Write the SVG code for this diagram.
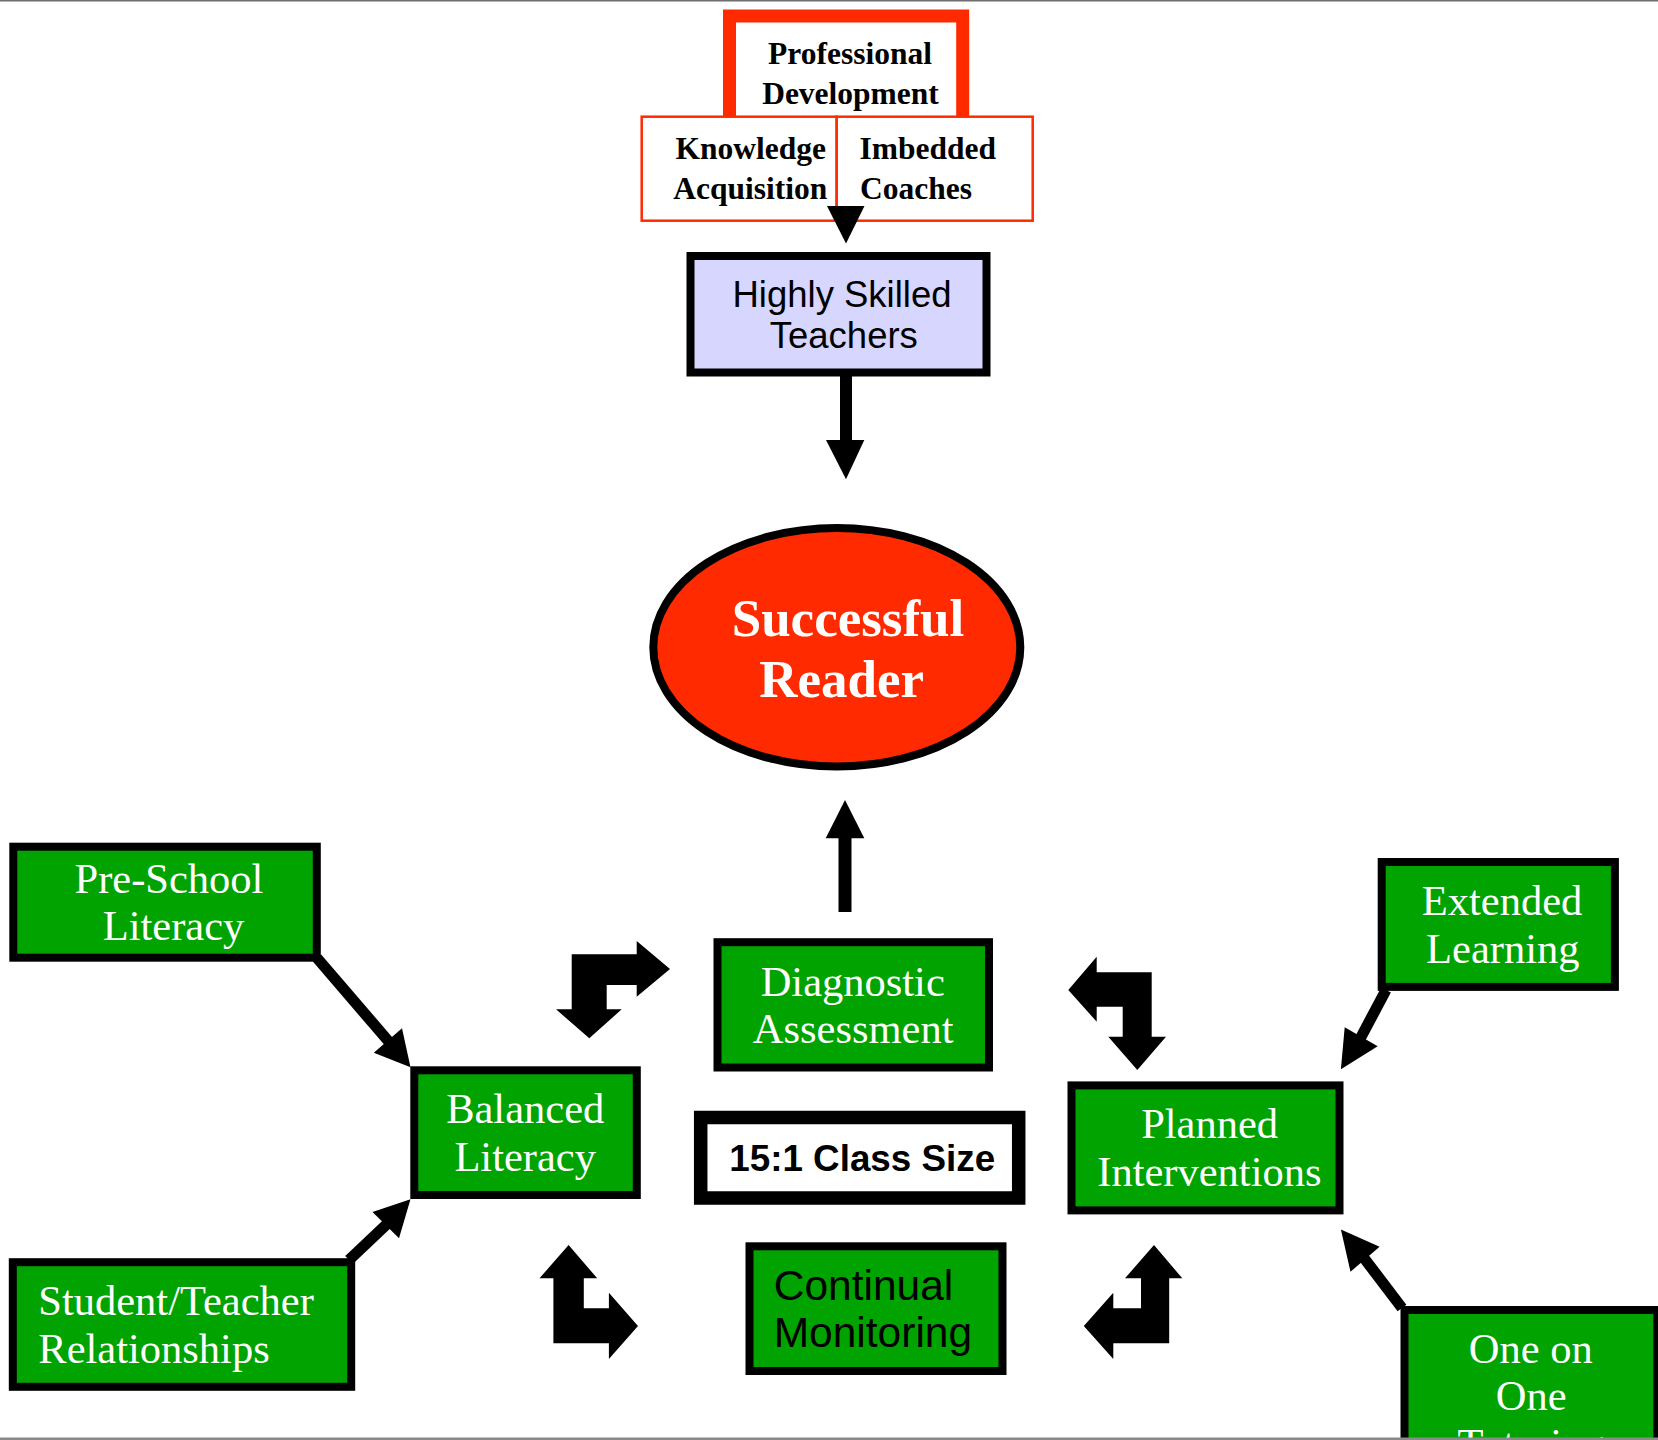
<svg xmlns="http://www.w3.org/2000/svg" width="1658" height="1440" viewBox="0 0 1658 1440">
<style>
.g{fill:#00a300;stroke:#000;stroke-width:8}
.tw{font-family:"Liberation Serif","Times New Roman",serif;font-size:42.5px;fill:#fff;text-anchor:middle}
.pd{font-family:"Liberation Serif","Times New Roman",serif;font-size:31.5px;font-weight:bold;fill:#000;text-anchor:middle}
.tl{text-anchor:start}
.sans{font-family:"Liberation Sans",Arial,sans-serif;fill:#000}
.ln{stroke:#000;stroke-width:11;fill:none}
.ah{fill:#000}
</style>
<rect x="0" y="0" width="1658" height="1440" fill="#fff"/>
<rect x="0" y="0" width="1658" height="1.5" fill="#6e6e6e"/>

<g id="professional-development">
<rect x="729.5" y="16" width="233.2" height="110" fill="#fff" stroke="#ff2a00" stroke-width="13"/>
<text class="pd" x="850" y="64">Professional</text>
<text class="pd" x="850.5" y="104">Development</text>
</g>
<g id="knowledge-acquisition">
<rect x="641.7" y="116.7" width="195" height="104" fill="#fff" stroke="#ff2a00" stroke-width="2.5"/>
<text class="pd" x="750.8" y="159.3">Knowledge</text>
<text class="pd" x="750.3" y="199.3">Acquisition</text>
</g>
<g id="imbedded-coaches">
<rect x="836.7" y="116.7" width="196" height="104" fill="#fff" stroke="#ff2a00" stroke-width="2.5"/>
<text class="pd tl" x="859.5" y="159.3">Imbedded</text>
<text class="pd tl" x="860" y="199.3">Coaches</text>
</g>
<g id="highly-skilled-teachers">
<rect x="690.5" y="256" width="296" height="116.5" fill="#d6d6ff" stroke="#000" stroke-width="8"/>
<text class="sans" x="842" y="306.7" font-size="36.5" text-anchor="middle">Highly Skilled</text>
<text class="sans" x="843.8" y="348.3" font-size="36.5" text-anchor="middle">Teachers</text>
</g>
<g id="successful-reader">
<ellipse cx="836.8" cy="647.3" rx="183.5" ry="119.3" fill="#ff2a00" stroke="#000" stroke-width="8"/>
<text x="848" y="636" font-family="'Liberation Serif','Times New Roman',serif" font-size="53" font-weight="bold" fill="#fff" text-anchor="middle">Successful</text>
<text x="841.7" y="696.7" font-family="'Liberation Serif','Times New Roman',serif" font-size="53" font-weight="bold" fill="#fff" text-anchor="middle">Reader</text>
</g>
<g id="diagnostic-assessment">
<rect class="g" x="717.5" y="942.2" width="271.5" height="125.3"/>
<text class="tw" x="852.7" y="996">Diagnostic</text>
<text class="tw" x="853.2" y="1043.3">Assessment</text>
</g>
<g id="class-size">
<rect x="700.7" y="1117.5" width="318" height="80.5" fill="#fff" stroke="#000" stroke-width="13.5"/>
<text class="sans" x="862.2" y="1171" font-size="36.8" font-weight="bold" text-anchor="middle">15:1 Class Size</text>
</g>
<g id="continual-monitoring">
<rect class="g" x="749.5" y="1246.3" width="253" height="124.7"/>
<text class="sans" x="773.7" y="1300" font-size="42.5">Continual</text>
<text class="sans" x="773.7" y="1346.7" font-size="42.5">Monitoring</text>
</g>
<g id="pre-school-literacy">
<rect class="g" x="13.3" y="846.7" width="303.5" height="111"/>
<text class="tw" x="169" y="892.7">Pre-School</text>
<text class="tw" x="173.5" y="940">Literacy</text>
</g>
<g id="balanced-literacy">
<rect class="g" x="414.3" y="1070.3" width="222.5" height="124.7"/>
<text class="tw" x="525.2" y="1122.7">Balanced</text>
<text class="tw" x="525.2" y="1170.7">Literacy</text>
</g>
<g id="student-teacher-relationships">
<rect class="g" x="12.8" y="1262.2" width="338.4" height="124.6"/>
<text class="tw tl" x="38.3" y="1315">Student/Teacher</text>
<text class="tw tl" x="38.3" y="1362.7">Relationships</text>
</g>
<g id="planned-interventions">
<rect class="g" x="1071.5" y="1085.4" width="268" height="125"/>
<text class="tw" x="1209.6" y="1138">Planned</text>
<text class="tw" x="1209.4" y="1185.7">Interventions</text>
</g>
<g id="extended-learning">
<rect class="g" x="1381.7" y="862" width="233.2" height="124.9"/>
<text class="tw" x="1502" y="914.5">Extended</text>
<text class="tw" x="1502.8" y="963">Learning</text>
</g>
<g id="one-on-one-tutoring">
<rect class="g" x="1404.5" y="1310" width="252.8" height="200"/>
<text class="tw" x="1530.8" y="1362.7">One on</text>
<text class="tw" x="1531.2" y="1410">One</text>
<text class="tw" x="1531" y="1457.5">Tutoring</text>
</g>

<g id="connectors">
<polygon class="ah" points="827,206 864.5,206 846,243.5"/>
<rect x="840" y="370" width="12" height="72" fill="#000"/>
<polygon class="ah" points="826,440 864.3,440 846,479.3"/>
<rect x="838.5" y="836" width="13" height="76" fill="#000"/>
<polygon class="ah" points="825.7,838.3 864.3,838.3 845,800"/>
<path class="ah" d="M571.7,954.3 L636.7,954.3 L636.7,941 L670,969 L636.7,996.7 L636.7,985 L606.7,985 L606.7,1009.3 L621.7,1009.3 L589.3,1038.3 L556,1009.3 L571.7,1009.3 Z"/>
<path class="ah" d="M1068.3,990 L1096.7,956.7 L1096.7,972.3 L1151.7,972.3 L1151.7,1036.7 L1166,1036.7 L1137.3,1070 L1108.3,1036.7 L1122.7,1036.7 L1122.7,1006.7 L1096.7,1006.7 L1096.7,1021.7 Z"/>
<path class="ah" d="M568.6,1245 L597.2,1278.3 L583.8,1278.3 L583.8,1308.3 L608.9,1308.3 L608.9,1292.7 L638,1326 L608.9,1359 L608.9,1343.3 L553.4,1343.3 L553.4,1278.3 L539.5,1278.3 Z"/>
<path class="ah" d="M1154,1245 L1182.3,1278.3 L1169.2,1278.3 L1169.2,1343.3 L1113.3,1343.3 L1113.3,1359 L1083.8,1326 L1113.3,1292.7 L1113.3,1308.3 L1141,1308.3 L1141,1278.3 L1125,1278.3 Z"/>
<line class="ln" x1="317" y1="958" x2="390" y2="1043"/>
<polygon class="ah" points="410.5,1067.3 373.8,1052.7 402,1028.3"/>
<line class="ln" x1="349" y1="1260" x2="387" y2="1224"/>
<polygon class="ah" points="410.5,1199.3 372.5,1212 399,1238.3"/>
<line class="ln" x1="1386" y1="990" x2="1360" y2="1039"/>
<polygon class="ah" points="1340.9,1069.2 1344.7,1027.2 1377.7,1046.3"/>
<line class="ln" x1="1402" y1="1308" x2="1364" y2="1258"/>
<polygon class="ah" points="1340.9,1229.6 1350.5,1271.7 1379.6,1246.8"/>
</g>
<rect x="0" y="1437.5" width="1658" height="2.5" fill="#8a8a8a"/>
</svg>
